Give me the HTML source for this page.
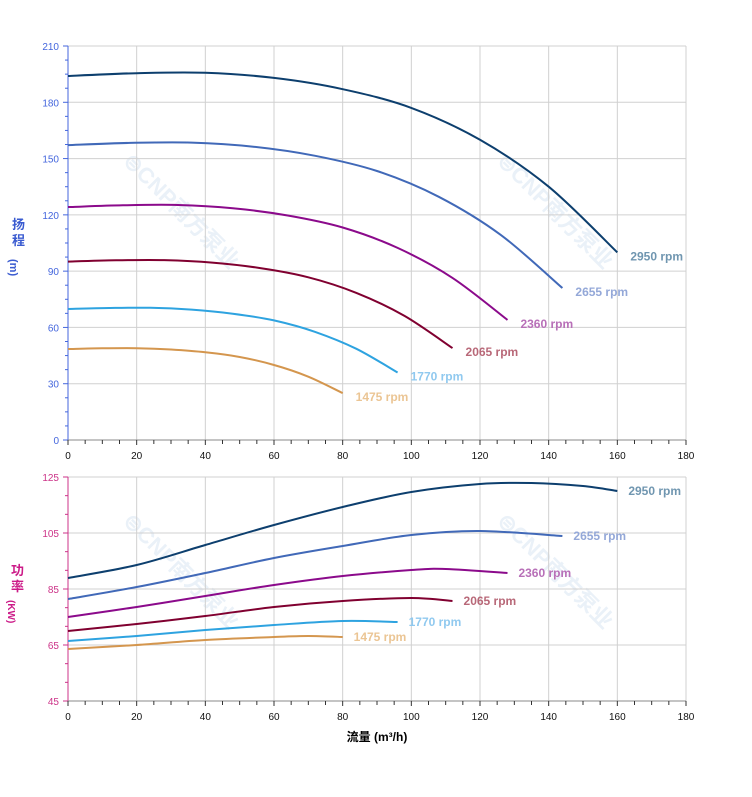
<!DOCTYPE html>
<html><head><meta charset="utf-8"><style>
body{margin:0;background:#fff;width:752px;height:797px;overflow:hidden}
svg{display:block;font-family:"Liberation Sans","Noto Sans CJK SC",sans-serif}
</style></head><body>
<svg id="s" width="752" height="797" xmlns="http://www.w3.org/2000/svg">
<g id="wm" fill="#eaf1f8" font-size="22" font-weight="bold">
<text transform="translate(122,162) rotate(45)">⊜CNP南方泵业</text>
<text transform="translate(496,162) rotate(45)">⊜CNP南方泵业</text>
<text transform="translate(122,522) rotate(45)">⊜CNP南方泵业</text>
<text transform="translate(496,522) rotate(45)">⊜CNP南方泵业</text>
</g>
<g id="grid" stroke="#d0d0d0" stroke-width="1" fill="none"></g>
<g id="ax"></g>
<g id="curves" fill="none" stroke-width="2"></g>
<g id="lbl" font-size="12" font-weight="bold"></g>
<text x="12" y="229" font-size="13" fill="#3a5bd0" font-weight="bold">扬</text>
<text x="12" y="245" font-size="13" fill="#3a5bd0" font-weight="bold">程</text>
<text transform="translate(10,259) rotate(90)" font-size="11" fill="#3a5bd0" font-weight="bold">(m)</text>
<text x="11" y="575" font-size="13" fill="#cc1b88" font-weight="bold">功</text>
<text x="11" y="591" font-size="13" fill="#cc1b88" font-weight="bold">率</text>
<text transform="translate(8,600) rotate(90)" font-size="10" fill="#cc1b88" font-weight="bold">(KW)</text>
<text x="377" y="741" font-size="12" font-weight="bold" fill="#000" text-anchor="middle">流量 (m³/h)</text>
</svg>
<script>
var NS="http://www.w3.org/2000/svg";
function el(p,t,a,txt){var e=document.createElementNS(NS,t);for(var k in a)e.setAttribute(k,a[k]);if(txt!=null)e.textContent=txt;document.getElementById(p).appendChild(e);return e;}
var X0=68,X1=686;function X(q){return X0+q*(X1-X0)/180;}
function panel(top,bot,vals,col,minor){
 for(var i=0;i<=9;i++){var x=X(i*20);el('grid','line',{x1:x,y1:top,x2:x,y2:bot});}
 var n=vals.length-1;
 for(var j=0;j<=n;j++){var y=top+(bot-top)*j/n;el('grid','line',{x1:X0,y1:y,x2:X1,y2:y});
  el('ax','text',{x:59,y:y+4,'font-size':10,fill:col,'text-anchor':'end'},vals[j]);
  el('ax','line',{x1:63,y1:y,x2:68,y2:y,stroke:col});
  if(j<n){for(var m=1;m<=minor;m++){var ym=y+(bot-top)/n*m/(minor+1);el('ax','line',{x1:65,y1:ym,x2:68,y2:ym,stroke:col});}}
 }
 el('ax','line',{x1:X0,y1:top,x2:X0,y2:bot,stroke:col,'stroke-width':1});
 el('ax','line',{x1:X0,y1:bot,x2:X1,y2:bot,stroke:'#888'});
 for(var i=0;i<=36;i++){var x=X(i*5);el('ax','line',{x1:x,y1:bot,x2:x,y2:bot+(i%4==0?5:4),stroke:'#333'});}
 for(var i=0;i<=9;i++)el('ax','text',{x:X(i*20),y:bot+19,'font-size':10,fill:'#111','text-anchor':'middle'},i*20);
}
panel(46,440,[210,180,150,120,90,60,30,0],'#4466dd',3);
panel(477,701,[125,105,85,65,45],'#cc3388',2);
function path(pts){var d='M'+pts[0][0]+','+pts[0][1];for(var i=0;i<pts.length-1;i++){var p0=pts[i-1]||pts[i],p1=pts[i],p2=pts[i+1],p3=pts[i+2]||p2;
 d+=' C'+(p1[0]+(p2[0]-p0[0])/6).toFixed(1)+','+(p1[1]+(p2[1]-p0[1])/6).toFixed(1)+' '+(p2[0]-(p3[0]-p1[0])/6).toFixed(1)+','+(p2[1]-(p3[1]-p1[1])/6).toFixed(1)+' '+p2[0].toFixed(1)+','+p2[1].toFixed(1);}return d;}
var base=[[0,194],[20,195.5],[40,195.7],[60,193],[80,187],[100,177],[120,160],[140,135],[160,100]];
var cols=['#0d3f6e','#4169b8','#8b0a8b','#800030','#2ea3e0','#d4964e'];
var lc=['#7096b0','#94a8d8','#b870b8','#b86878','#90c9ef','#ebc594'];
var rpm=[2950,2655,2360,2065,1770,1475],r=[1,.9,.8,.7,.6,.5];
for(var k=0;k<6;k++){var pts=base.map(function(p){return [X(p[0]*r[k]),440-p[1]*r[k]*r[k]*394/210];});
 el('curves','path',{d:path(pts),stroke:cols[k]});
 var e=pts[pts.length-1];el('lbl','text',{x:e[0]+13,y:e[1]+8,fill:lc[k]},rpm[k]+' rpm');}
var P=[
[[0,578],[20,565],[40,545],[60,525],[80,507],[100,492],[120,484],[135,483],[150,486],[160,491]],
[[0,599],[20,587],[40,573],[60,558],[80,546],[100,535],[120,531],[144,536]],
[[0,617],[20,607],[40,596],[60,585],[80,576],[100,570],[110,569],[128,573]],
[[0,631],[20,624],[40,616],[60,607],[80,601],[100,598],[112,601]],
[[0,641],[20,636],[40,630],[60,625],[80,621],[96,622]],
[[0,649],[20,645],[40,640],[60,637],[70,636],[80,637]]];
for(var k=0;k<6;k++){var pts=P[k].map(function(p){return [X(p[0]),p[1]];});
 el('curves','path',{d:path(pts),stroke:cols[k]});
 var e=pts[pts.length-1];el('lbl','text',{x:e[0]+11,y:e[1]+4,fill:lc[k]},rpm[k]+' rpm');}
</script>
</body></html>
